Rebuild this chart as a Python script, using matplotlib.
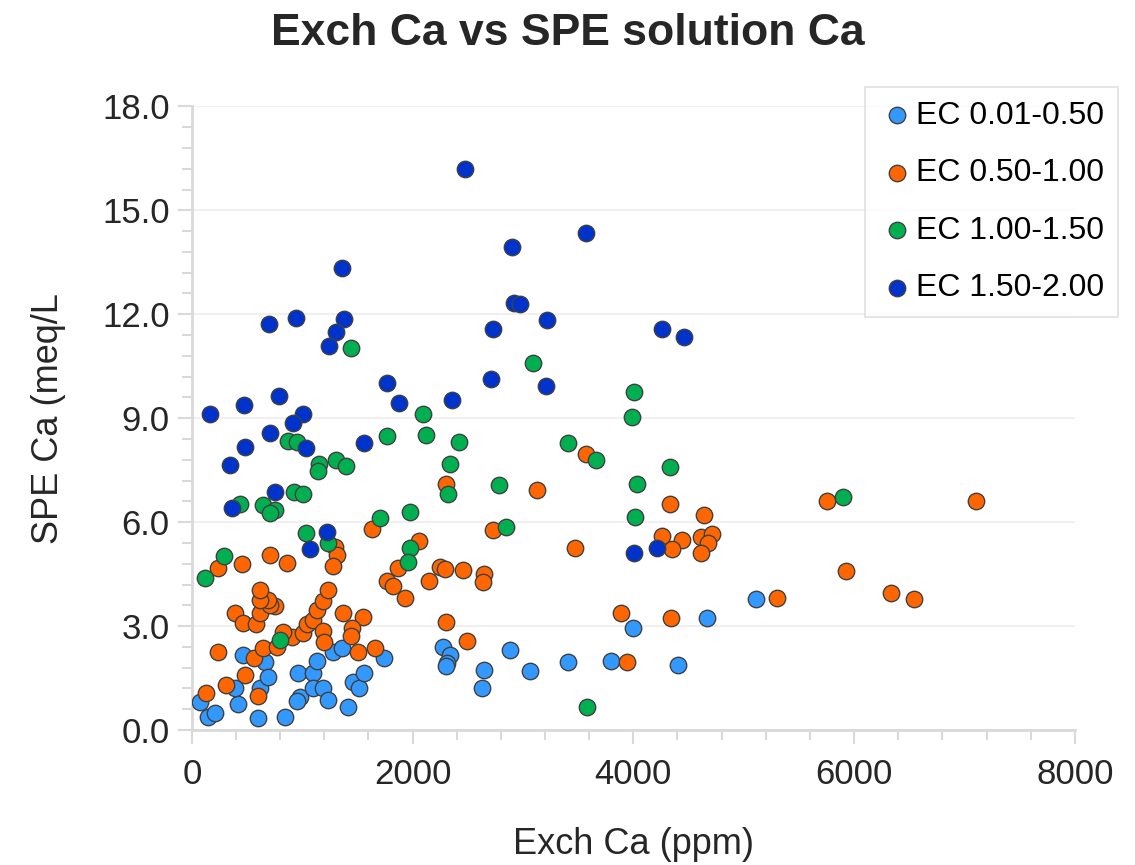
import matplotlib
matplotlib.use("Agg")
import matplotlib.pyplot as plt
from matplotlib.ticker import MultipleLocator, FormatStrFormatter

plt.rcParams['font.family'] = ['Liberation Sans', 'DejaVu Sans']

labels = ["EC 0.01-0.50", "EC 0.50-1.00", "EC 1.00-1.50", "EC 1.50-2.00"]
colors = ["#3399FF", "#FF6600", "#00B050", "#0033CC"]

# EC 0.01-0.50
x1 = [72, 145, 208, 417, 390, 462, 616, 598, 661, 688, 842, 960, 978, 951, 1096, 1132,
      1096, 1187, 1232, 1277, 1359, 1413, 1458, 1513, 1558, 1739, 2274, 2337, 2310, 2300,
      2645, 2627, 2880, 3062, 3406, 3795, 3995, 4402, 4665, 5109]
y1 = [0.81, 0.38, 0.49, 0.75, 1.21, 2.16, 1.21, 0.35, 1.96, 1.53, 0.37, 1.64, 0.95, 0.84, 1.64, 1.99,
      1.21, 1.21, 0.87, 2.25, 2.36, 0.66, 1.38, 1.21, 1.64, 2.08, 2.39, 2.16, 1.93, 1.85,
      1.73, 1.21, 2.31, 1.70, 1.96, 1.99, 2.94, 1.87, 3.23, 3.78]

# EC 0.50-1.00
x2 = [127, 308, 598, 480, 235, 562, 643, 770, 906, 824, 1005, 1042, 1096, 1132, 1187, 1232,
      1187, 1196, 1368, 1549, 1449, 1440, 1504, 1658, 389, 462, 580, 616, 752, 707, 688, 616,
      616, 235, 453, 707, 861, 1295, 1313, 1277, 1630, 2056, 1866, 1766, 1821, 1929, 2147,
      2246, 2292, 2455, 2645, 2636, 2301, 2491, 2301, 2726, 3125, 3569, 3469, 4330, 4638,
      4257, 4438, 4348, 4611, 4710, 4674, 4611, 3886, 4339, 3940, 5299, 5924, 6332, 6540,
      5752, 7102]
y2 = [1.07, 1.30, 0.98, 1.59, 2.25, 2.08, 2.36, 2.39, 2.68, 2.83, 2.80, 3.06, 3.17, 3.46, 3.72, 4.04,
      2.86, 2.54, 3.37, 3.26, 2.94, 2.71, 2.25, 2.36, 3.37, 3.09, 3.06, 3.37, 3.58, 3.61, 3.75, 3.75,
      4.04, 4.67, 4.79, 5.05, 4.82, 5.28, 5.05, 4.73, 5.80, 5.45, 4.67, 4.30, 4.15, 3.81, 4.30,
      4.70, 4.64, 4.61, 4.50, 4.27, 3.12, 2.57, 7.10, 5.77, 6.92, 7.96, 5.25, 6.52, 6.20,
      5.60, 5.48, 5.22, 5.57, 5.65, 5.39, 5.11, 3.37, 3.23, 1.96, 3.81, 4.59, 3.95, 3.78,
      6.61, 6.61]

# EC 1.00-1.50
x3 = [118, 290, 797, 435, 643, 752, 707, 924, 1005, 1033, 1232, 1703, 1975, 1975, 1957,
      870, 951, 1150, 1141, 1304, 1395, 1440, 1766, 2092, 2120, 2419, 2337, 2319, 2781,
      2844, 3089, 3406, 3659, 4004, 3986, 4031, 4013, 4330, 3578, 5897]
y3 = [4.38, 5.02, 2.60, 6.52, 6.49, 6.35, 6.26, 6.86, 6.81, 5.68, 5.39, 6.11, 6.29, 5.25, 4.85,
      8.34, 8.31, 7.67, 7.47, 7.79, 7.61, 11.02, 8.48, 9.11, 8.51, 8.31, 7.67, 6.81, 7.07,
      5.86, 10.59, 8.28, 7.79, 9.75, 9.03, 7.10, 6.14, 7.59, 0.66, 6.72]

# EC 1.50-2.00
x4 = [2473, 2899, 3569, 1359, 697, 942, 1377, 1304, 1241, 2917, 2971, 3216, 2726, 4257,
      4457, 1766, 1875, 2355, 2708, 3207, 163, 471, 788, 1005, 915, 707, 480, 344, 1033,
      1558, 752, 362, 1223, 1069, 4004, 4212]
y4 = [16.18, 13.93, 14.34, 13.33, 11.71, 11.88, 11.85, 11.48, 11.08, 12.32, 12.29, 11.83, 11.57, 11.57,
      11.34, 10.01, 9.43, 9.52, 10.12, 9.92, 9.11, 9.37, 9.63, 9.11, 8.85, 8.57, 8.16, 7.64, 8.13,
      8.28, 6.86, 6.40, 5.71, 5.22, 5.11, 5.25]

xs = [x1, x2, x3, x4]
ys = [y1, y2, y3, y4]

fig = plt.figure(figsize=(11.35, 8.65), dpi=100)
ax = fig.add_axes([0.169, 0.156, 0.778, 0.721])

for xv, yv, c, lab in zip(xs, ys, colors, labels):
    ax.scatter(xv, yv, s=140, c=c, edgecolors="#404040", linewidths=1.0, label=lab, zorder=3)

ax.set_xlim(0, 8000)
ax.set_ylim(0, 18)
ax.xaxis.set_major_locator(MultipleLocator(2000))
ax.xaxis.set_minor_locator(MultipleLocator(400))
ax.yaxis.set_major_locator(MultipleLocator(3))
ax.yaxis.set_minor_locator(MultipleLocator(0.6))
ax.yaxis.set_major_formatter(FormatStrFormatter('%.1f'))

ax.grid(axis='y', which='major', color='#f0f0f0', linewidth=1.5, zorder=0)
for s in ['top', 'right']:
    ax.spines[s].set_visible(False)
for s in ['left', 'bottom']:
    ax.spines[s].set_color('#d9d9d9')
    ax.spines[s].set_linewidth(2)
ax.tick_params(which='major', length=10, width=1.5, color='#d9d9d9', labelsize=25,
               labelcolor='#262626', pad=6)
ax.tick_params(axis='x', which='major', pad=10)
ax.tick_params(which='minor', length=7, width=1.5, color='#d9d9d9')

ax.set_xlabel("Exch Ca (ppm)", fontsize=26, color='#262626', labelpad=26)
ax.set_ylabel("SPE Ca (meq/L", fontsize=26, color='#262626', labelpad=26)
fig.suptitle("Exch Ca vs SPE solution Ca", fontsize=32, fontweight='bold', color='#262626', y=0.985)

leg = fig.legend(loc='upper right', bbox_to_anchor=(0.985, 0.899), fontsize=23,
                 frameon=True, fancybox=False, edgecolor='#d9d9d9', markerscale=1.0,
                 handletextpad=0.0, labelspacing=0.86, borderpad=0.42, handlelength=1.2,
                 borderaxespad=0)
leg.get_frame().set_linewidth(1.2)

fig.savefig("out.png", dpi=100)
